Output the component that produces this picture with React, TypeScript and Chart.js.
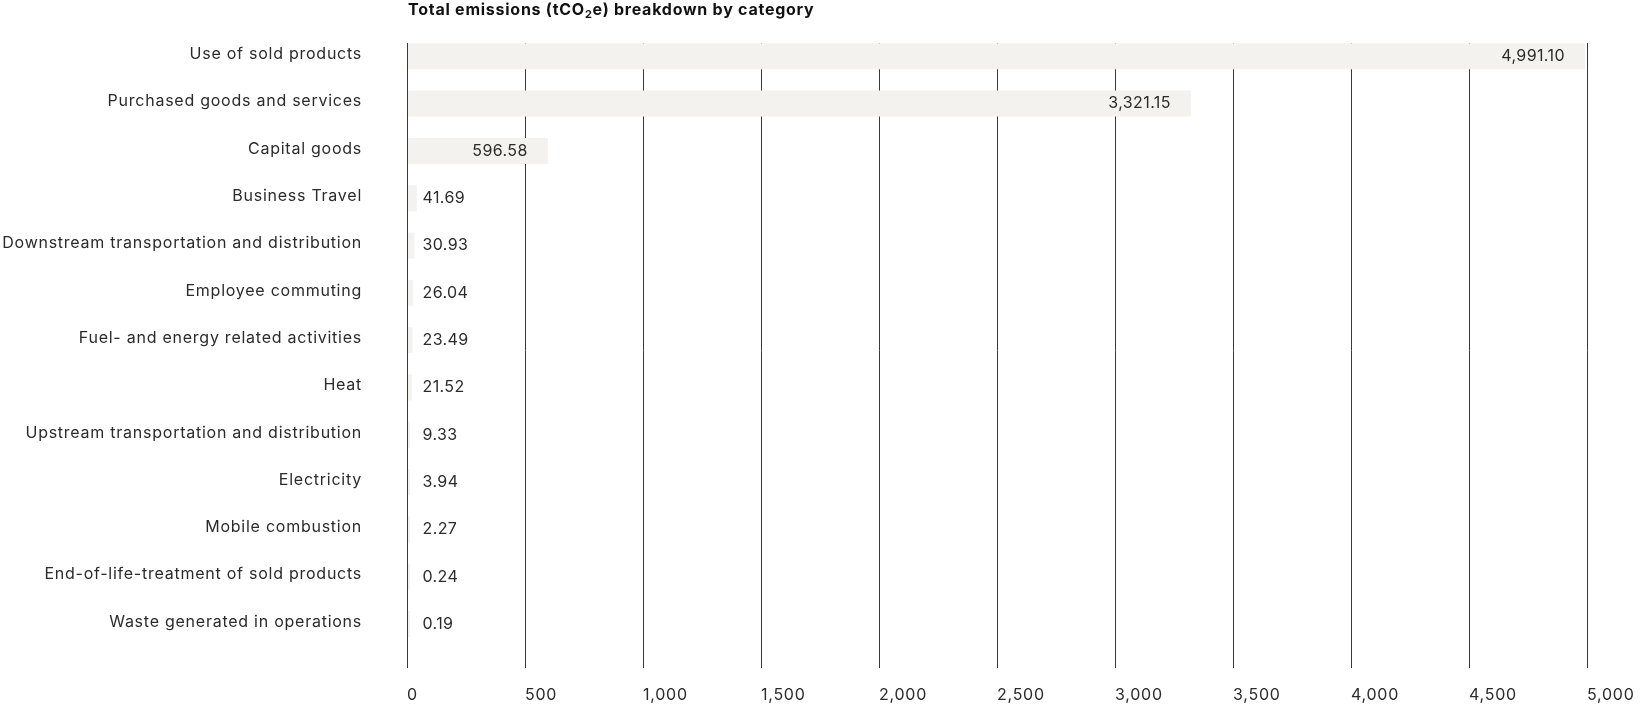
import { useEffect, useRef } from 'react';
import { Chart, registerables } from 'chart.js';

Chart.register(...registerables);

const categories: string[] = [
  'Use of sold products',
  'Purchased goods and services',
  'Capital goods',
  'Business Travel',
  'Downstream transportation and distribution',
  'Employee commuting',
  'Fuel- and energy related activities',
  'Heat',
  'Upstream transportation and distribution',
  'Electricity',
  'Mobile combustion',
  'End-of-life-treatment of sold products',
  'Waste generated in operations',
];

const emissions: number[] = [
  4991.1, 3321.15, 596.58, 41.69, 30.93, 26.04, 23.49, 21.52, 9.33, 3.94, 2.27, 0.24, 0.19,
];

const spacerSeries: number[] = categories.map(() => 0);

const axisMin = 0;
const axisMax = 5000;
const axisStep = 500;

const titleBefore = 'Total emissions (tCO';
const titleSub = '2';
const titleAfter = 'e) breakdown by category';

const FONT = 'Inter, "Noto Sans", sans-serif';
const TEXT = '#2b2b2b';
const LINE = '#383838';
const BAR = '#f3f2ee';
const SPACING = '0.75px';

const fmt = (n: number) =>
  n.toLocaleString('en-US', { minimumFractionDigits: 2, maximumFractionDigits: 2 });

export default function App() {
  const ref = useRef<HTMLCanvasElement | null>(null);

  useEffect(() => {
    document.body.style.margin = '0';
    const canvas = ref.current;
    if (!canvas) return;

    const setSpacing = (chart: any) => {
      (chart.ctx as any).letterSpacing = SPACING;
    };

    const spacingPlugin = {
      id: 'spacing',
      beforeUpdate: setSpacing,
      beforeLayout: setSpacing,
      beforeDraw: setSpacing,
    };

    const titlePlugin = {
      id: 'customTitle',
      afterDraw(chart: any) {
        const ctx = chart.ctx as CanvasRenderingContext2D;
        const x0 = chart.chartArea.left + 1;
        const baseY = 15;
        ctx.save();
        (ctx as any).letterSpacing = SPACING;
        ctx.fillStyle = '#111111';
        ctx.textAlign = 'left';
        ctx.textBaseline = 'alphabetic';
        ctx.font = `bold 16px ${FONT}`;
        ctx.fillText(titleBefore, x0, baseY);
        let x = x0 + ctx.measureText(titleBefore).width;
        ctx.font = `bold 11px ${FONT}`;
        ctx.fillText(titleSub, x, baseY + 3);
        x += ctx.measureText(titleSub).width;
        ctx.font = `bold 16px ${FONT}`;
        ctx.fillText(titleAfter, x, baseY);
        ctx.restore();
      },
    };

    const valueLabels = {
      id: 'valueLabels',
      afterDatasetsDraw(chart: any) {
        const meta = chart.getDatasetMeta(0);
        const ctx = chart.ctx as CanvasRenderingContext2D;
        ctx.save();
        (ctx as any).letterSpacing = '0.4px';
        ctx.font = `16px ${FONT}`;
        ctx.fillStyle = TEXT;
        ctx.textBaseline = 'middle';
        meta.data.forEach((bar: any, i: number) => {
          const text = fmt(emissions[i]);
          const w = ctx.measureText(text).width;
          const { x, y, base } = bar.getProps(['x', 'y', 'base'], true);
          const len = x - base;
          if (len > w + 40) {
            ctx.textAlign = 'right';
            ctx.fillText(text, x - 20, y);
          } else {
            ctx.textAlign = 'left';
            ctx.fillText(text, base + 15, y);
          }
        });
        ctx.restore();
      },
    };

    const chart = new Chart(canvas, {
      type: 'bar',
      data: {
        labels: categories,
        datasets: [
          {
            label: 'Total emissions',
            data: emissions,
            backgroundColor: BAR,
            borderWidth: 0,
            minBarLength: 3,
          },
          {
            label: 'spacer',
            data: spacerSeries,
            backgroundColor: 'rgba(0,0,0,0)',
            borderWidth: 0,
          },
        ],
      },
      options: {
        indexAxis: 'y',
        responsive: false,
        animation: false,
        devicePixelRatio: 1,
        layout: { padding: { top: 43, right: 55, left: 0, bottom: 0 } },
        datasets: {
          bar: { categoryPercentage: 0.875, barPercentage: 1.256 },
        },
        plugins: {
          legend: { display: false },
          tooltip: { enabled: false },
          title: { display: false },
        },
        scales: {
          x: {
            type: 'linear',
            min: axisMin,
            max: axisMax,
            ticks: {
              stepSize: axisStep,
              align: 'start',
              padding: 18,
              color: TEXT,
              font: { family: FONT, size: 16 },
              callback: (v: any) => Number(v).toLocaleString('en-US'),
            },
            grid: { color: LINE, lineWidth: 1, tickLength: 10, drawTicks: true },
            border: { display: false },
            afterFit: (s: any) => {
              s.height = 49;
              s.paddingLeft = 0;
              s.paddingRight = 0;
            },
          },
          y: {
            type: 'category',
            grid: { display: false, drawTicks: false },
            border: { display: true, color: LINE, width: 1, z: 1 },
            ticks: {
              padding: 45,
              labelOffset: -12.4,
              color: TEXT,
              font: { family: FONT, size: 16 },
              autoSkip: false,
            },
            afterFit: (s: any) => {
              s.width = 407;
              s.paddingTop = 0;
              s.paddingBottom = 0;
            },
          },
        },
      },
      plugins: [spacingPlugin, valueLabels, titlePlugin],
    });

    return () => {
      chart.destroy();
    };
  }, []);

  return (
    <div style={{ width: 1642, height: 707 }}>
      <canvas ref={ref} width={1642} height={707} style={{ display: 'block' }} />
    </div>
  );
}
